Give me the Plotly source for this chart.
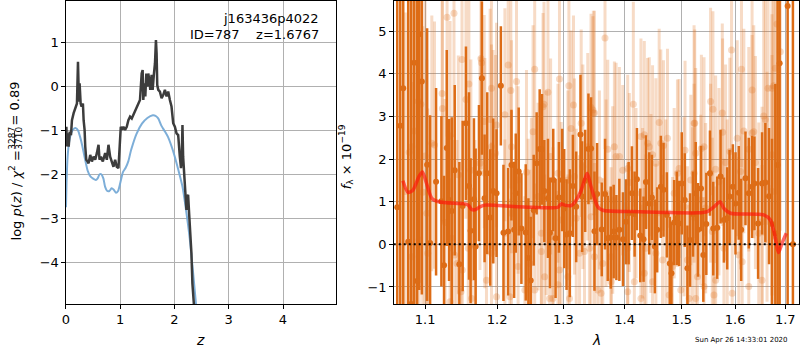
import math
import plotly.graph_objects as go

# ---------------- left panel: log p(z) ----------------
z_black = [0.0, 0.007, 0.019, 0.031, 0.05, 0.068, 0.092, 0.11, 0.141, 0.172,
           0.202, 0.221, 0.239, 0.251, 0.27, 0.288, 0.312, 0.325, 0.343, 0.355,
           0.374, 0.398, 0.416, 0.447, 0.478, 0.508, 0.539, 0.569, 0.6, 0.618,
           0.643, 0.679, 0.722, 0.753, 0.783, 0.814, 0.845, 0.875, 0.906, 0.936,
           0.967, 0.985, 1.01, 1.034, 1.059, 1.089, 1.12, 1.15, 1.181, 1.212,
           1.242, 1.273, 1.303, 1.334, 1.364, 1.395, 1.413, 1.425, 1.444, 1.462,
           1.481, 1.499, 1.517, 1.536, 1.554, 1.578, 1.597, 1.621, 1.64, 1.658,
           1.67, 1.682, 1.701, 1.731, 1.762, 1.792, 1.823, 1.854, 1.884, 1.915,
           1.945, 1.976, 2.007, 2.037, 2.068, 2.098, 2.12, 2.135, 2.147, 2.159,
           2.19, 2.22, 2.235, 2.251, 2.27, 2.312, 2.33, 2.36]
lnp_black = [-1.3, -0.92, -1.37, -1.07, -1.37, -1.03, -1.11, -0.77, -0.61, -0.48,
             -0.39, 0.56, -0.35, 0.07, -0.39, -0.46, -0.39, -0.77, -0.99, -1.37,
             -1.67, -1.71, -1.75, -1.56, -1.71, -1.60, -1.67, -1.52, -1.33, -1.67,
             -1.60, -1.71, -1.52, -1.67, -1.33, -1.60, -1.75, -1.83, -1.67, -1.83,
             -1.86, -1.52, -0.92, -0.99, -0.92, -0.99, -0.92, -0.77, -0.69, -0.73,
             -0.65, -0.54, -0.50, -0.39, -0.31, 0.29, 0.37, -0.31, 0.07, -0.23,
             0.29, -0.01, 0.29, 0.14, -0.08, 0.26, -0.08, 0.29, 0.52, 1.05,
             0.75, 0.03, -0.08, -0.12, -0.27, -0.20, -0.08, -0.23, -0.12, -0.31,
             -0.46, -0.84, -0.92, -1.07, -1.11, -1.6, -1.86, -1.55, -0.88, -1.6,
             -2.2, -2.81, -2.5, -2.47, -2.9, -3.8, -4.48, -5.0]

z_blue = [0.0, 0.01, 0.03, 0.06, 0.1, 0.15, 0.18, 0.22, 0.26, 0.3,
          0.35, 0.4, 0.45, 0.5, 0.55, 0.58, 0.62, 0.65, 0.69, 0.72,
          0.76, 0.8, 0.84, 0.88, 0.92, 0.96, 1.0, 1.05, 1.1, 1.15,
          1.2, 1.3, 1.4, 1.5, 1.6, 1.65, 1.7, 1.76, 1.82, 1.88,
          1.95, 2.0, 2.07, 2.15, 2.2, 2.28, 2.34, 2.4]
lnp_blue = [-2.75, -2.2, -1.6, -1.25, -1.05, -0.96, -0.95, -1.0, -1.15, -1.35,
            -1.65, -1.92, -2.05, -2.1, -2.13, -2.1, -2.0, -2.0, -2.1, -2.28,
            -2.38, -2.38, -2.32, -2.35, -2.42, -2.38, -2.2, -1.95, -1.85, -1.7,
            -1.45, -1.08, -0.85, -0.72, -0.66, -0.67, -0.73, -0.9, -1.02, -1.15,
            -1.38, -1.58, -1.9, -2.3, -2.7, -3.45, -4.2, -5.0]

# ---------------- right panel: spectrum ----------------
lam_dark = [1.0635, 1.0674, 1.0712, 1.0777, 1.0816, 1.0855, 1.0894, 1.0921, 1.0956, 1.1026,
            1.1066, 1.1146, 1.1218, 1.1254, 1.1291, 1.1322, 1.1359, 1.1400, 1.1464, 1.1510,
            1.1556, 1.1598, 1.1621, 1.1668, 1.1692, 1.1739, 1.1781, 1.1819, 1.1857, 1.1900,
            1.1943, 1.1991, 1.2054, 1.2092, 1.2160, 1.2209, 1.2249, 1.2273, 1.2317, 1.2357,
            1.2422, 1.2462, 1.2497, 1.2542, 1.2587, 1.2633, 1.2668, 1.2704, 1.2760, 1.2791,
            1.2842, 1.2878, 1.2930, 1.2982, 1.3013, 1.3050, 1.3102, 1.3150, 1.3203, 1.3272,
            1.3298, 1.3347, 1.3400, 1.3443, 1.3498, 1.3541, 1.3617, 1.3672, 1.3716, 1.3766,
            1.3815, 1.3860, 1.3910, 1.3971, 1.4022, 1.4067, 1.4123, 1.4169, 1.4209, 1.4266,
            1.4323, 1.4364, 1.4421, 1.4468, 1.4520, 1.4561, 1.4626, 1.4673, 1.4732, 1.4785,
            1.4815, 1.4863, 1.4910, 1.4952, 1.5000, 1.5054, 1.5103, 1.5151, 1.5206, 1.5255,
            1.5298, 1.5353, 1.5396, 1.5452, 1.5520, 1.5582, 1.5657, 1.5720, 1.5784, 1.5847,
            1.5892, 1.5956, 1.6007, 1.6071, 1.6117, 1.6201, 1.6266, 1.6331, 1.6377, 1.6450,
            1.6529, 1.6595, 1.6669, 1.6729, 1.6796, 1.6843, 1.6884, 1.7048, 1.7157]
f_dark = [0.87, 2.78, 3.66, 0.06, -1.40, 4.26, -0.86, 4.93, 3.82, 1.87,
          0.03, 1.47, 1.01, -0.49, 2.26, 1.04, 0.78, 1.74, -0.47, 0.90,
          2.84, 1.37, 0.32, 1.06, -0.05, 1.67, 3.90, 1.08, 1.67, 0.63,
          1.25, 1.20, 3.72, 0.27, 0.30, 1.86, 0.34, 1.20, 1.71, 0.37,
          0.28, -0.32, -0.85, 0.80, 1.90, 2.24, 2.23, 1.25, 1.08, 0.27,
          1.51, 0.14, 1.10, 1.51, 0.84, 0.23, 0.26, 1.37, 0.88, 2.58,
          1.12, 1.49, 2.24, 2.25, 0.31, 1.18, 0.35, 1.18, 0.14, 0.16,
          0.30, 0.16, 0.34, 0.12, 0.53, 0.73, 1.20, 0.71, 1.53, 0.21,
          0.12, 1.46, 0.96, 1.10, -0.05, 0.34, 1.35, 1.28, 0.69, -0.45,
          -0.68, 0.51, 0.61, 0.49, 1.43, 1.04, -0.56, 0.10, 0.71, 1.20,
          0.34, 1.31, -0.25, 0.48, 1.67, 0.37, 0.39, 1.59, 0.57, 0.61,
          1.12, 1.35, 0.96, 1.21, 0.34, 1.55, 1.20, 1.35, 1.43, 0.49,
          1.43, 1.45, 1.13, 0.48, 0.26, 1.86, 4.25, 5.59, 0.0]
err_dark = [9, 8, 9, 9, 8, 7, 7, 6, 5, 3.2,
            3.0, 2.2, 2.0, 2.1, 2.3, 1.9, 2.2, 2.0, 2.4, 2.0,
            1.8, 2.2, 1.7, 1.9, 2.3, 1.6, 1.8, 1.5, 1.9, 1.6,
            1.7, 1.5, 1.4, 1.6, 1.5, 1.3, 1.6, 1.4, 1.5, 1.3,
            1.6, 1.4, 1.5, 1.3, 1.2, 1.4, 1.3, 1.2, 1.4, 1.3,
            1.2, 1.4, 1.3, 1.2, 1.4, 1.3, 1.5, 1.2, 1.3, 1.4,
            1.3, 1.2, 1.3, 1.2, 1.4, 1.2, 1.1, 1.3, 1.0, 1.2,
            1.1, 1.0, 1.2, 1.1, 1.0, 1.2, 1.1, 1.0, 1.2, 1.1,
            1.0, 1.1, 1.2, 1.0, 1.1, 1.0, 1.2, 1.1, 1.0, 1.1,
            1.2, 1.0, 1.1, 1.0, 1.2, 1.1, 1.0, 1.1, 1.0, 1.2,
            1.1, 1.0, 1.1, 1.2, 1.0, 1.1, 1.2, 1.1, 1.0, 1.2,
            1.1, 1.0, 1.2, 1.1, 1.2, 1.1, 1.3, 1.2, 1.1, 1.3,
            1.2, 1.4, 1.6, 2.0, 3.5, 6, 8, 9, 9]

lam_light = [1.1295, 1.1390, 1.1501, 1.1767, 1.1776, 1.1597, 1.1556, 1.1228, 1.1232, 1.0908,
             1.0943, 1.0859, 1.0824, 1.0790, 1.0999, 1.1089, 1.1125, 1.1336, 1.0739, 1.0968,
             1.1022, 1.1450, 1.1625, 1.1753, 1.1823, 1.0824, 1.0920, 1.1035, 1.1268, 1.1359,
             1.1396, 1.1432, 1.1505, 1.1588, 1.1682, 1.1846, 1.1918, 1.1336, 1.1487, 1.1635,
             1.1814, 1.1918, 1.1899, 1.1918, 1.1942,
             1.2161, 1.2284, 1.2200, 1.2113, 1.1991, 1.2557, 1.2939, 1.2760, 1.2684, 1.2699,
             1.3087, 1.3160, 1.3442, 1.3480, 1.3122, 1.3283, 1.2532, 1.2801, 1.2915, 1.2433,
             1.2308, 1.2210, 1.1977, 1.2608, 1.2735, 1.3071, 1.3176, 1.3389, 1.3310, 1.2507,
             1.2659, 1.2837, 1.2210, 1.2966, 1.2113, 1.2458, 1.2659, 1.2939, 1.2915, 1.3071,
             1.3257, 1.3336, 1.3416, 1.1991, 1.2186, 1.2409, 1.2557, 1.2786, 1.2837, 1.3097,
             1.2709, 1.2308, 1.2483, 1.3204, 1.3442,
             1.3671, 1.4147, 1.4596, 1.4743, 1.4278, 1.4336, 1.4393, 1.4422, 1.4625, 1.4672,
             1.5060, 1.5225, 1.3472, 1.3498, 1.3716, 1.3827, 1.3855, 1.3911, 1.3967, 1.4051,
             1.4480, 1.4538, 1.4922, 1.4952, 1.5165, 1.4079, 1.3688, 1.4193, 1.3579, 1.3799,
             1.4307, 1.4451, 1.4714, 1.4863, 1.5042, 1.3498, 1.3634, 1.3772, 1.4051, 1.4364,
             1.4538, 1.4655, 1.4833, 1.5103, 1.3552, 1.3606, 1.3772, 1.4051, 1.4164, 1.4336,
             1.4278, 1.4480, 1.4773, 1.4982, 1.5134,
             1.5930, 1.6123, 1.6331, 1.5532, 1.5576, 1.5753, 1.5237, 1.6040, 1.6169, 1.6364,
             1.6331, 1.5759, 1.5409, 1.5360, 1.5255, 1.6562, 1.6595, 1.6649, 1.6762, 1.6830,
             1.6897, 1.6796, 1.6729, 1.5532, 1.5627, 1.5816, 1.5898, 1.6266, 1.6397, 1.6729,
             1.5225, 1.5348, 1.5690, 1.6104, 1.6629, 1.6729, 1.5195, 1.5440, 1.5847, 1.6071,
             1.6136, 1.5784, 1.5564, 1.6463, 1.6529, 1.5286, 1.5409, 1.5627, 1.5943, 1.6266,
             1.6529, 1.5595, 1.5255]
f_light = [5.33, 5.42, 4.34, 4.36, 4.26, 3.76, 3.40, 3.54, 3.19, 3.36,
           3.29, 2.66, 2.29, 2.16, 2.07, 2.37, 2.33, 2.54, 1.24, 1.22,
           0.73, 1.63, 1.74, 1.90, 1.67, -0.29, 0.10, -0.21, 0.51, 0.14,
           -0.25, -0.45, -0.60, -0.09, -0.05, -0.84, -0.21, -1.35, -1.11, -1.27,
           2.88, 3.66, 2.93, 2.29, 2.06,
           4.21, 3.82, 3.61, 3.04, 2.80, 4.11, 3.88, 3.57, 3.23, 3.29,
           3.72, 3.27, 3.21, 3.08, 2.72, 2.84, 2.64, 2.06, 1.67, 1.69,
           1.51, 2.29, 2.14, 1.12, 1.21, 1.51, 1.59, 2.29, 1.82, 0.67,
           0.26, 0.18, 0.73, 0.57, 0.26, -0.02, -0.17, -0.60, -0.95, -0.76,
           -0.21, -0.17, -0.09, -1.23, -1.23, -1.07, -1.07, -1.27, -1.27, -1.27,
           -0.76, -0.52, -0.45, 0.61, 0.65,
           4.84, 3.29, 2.86, 2.49, 2.53, 2.57, 2.37, 2.29, 2.37, 2.32,
           2.21, 2.84, 3.15, 3.08, 2.23, 2.29, 2.06, 2.06, 1.74, 1.78,
           2.10, 1.90, 1.67, 1.78, 1.51, 1.45, 1.20, 1.20, 1.51, 1.04,
           0.73, 0.96, 0.73, 1.20, 0.88, -0.29, -0.45, -0.29, -0.09, -0.09,
           -0.21, -0.37, -0.52, -0.37, -1.07, -1.15, -0.88, -1.11, -0.88, -0.68,
           -1.27, -0.88, -1.19, -1.07, -1.27,
           4.56, 4.11, 3.62, 3.35, 3.17, 3.08, 2.84, 2.49, 2.66, 2.64,
           2.61, 2.63, 2.29, 2.25, 2.14, 3.01, 2.93, 3.66, 3.72, 5.17,
           4.52, 4.13, 3.66, 1.67, 1.76, 1.92, 2.18, 2.23, 1.92, 2.10,
           1.67, 1.04, 1.47, 1.71, 1.35, 1.24, 0.65, 0.85, 0.73, -0.25,
           -0.41, -0.09, 0.30, 0.26, 0.53, -0.76, -0.99, -0.84, -1.15, -0.99,
           -0.84, -1.19, -1.27]
err_light = [2.8, 2.9, 2.6, 2.7, 2.5, 2.6, 2.8, 3.0, 2.7, 4.0,
             4.2, 4.5, 4.0, 4.4, 3.8, 3.0, 2.9, 2.7, 4.2, 3.9,
             3.6, 2.8, 2.6, 2.5, 2.7, 4.1, 3.8, 3.4, 2.9, 2.8,
             2.7, 2.9, 2.6, 2.8, 2.5, 2.7, 2.6, 2.9, 2.8, 2.6,
             2.5, 2.7, 2.6, 2.4, 2.5,
             2.4, 2.6, 2.3, 2.5, 2.4, 2.2, 2.3, 2.5, 2.2, 2.4,
             2.3, 2.1, 2.2, 2.4, 2.3, 2.2, 2.5, 2.3, 2.1, 2.4,
             2.2, 2.5, 2.3, 2.2, 2.4, 2.1, 2.3, 2.2, 2.4, 2.3,
             2.2, 2.1, 2.4, 2.3, 2.2, 2.5, 2.3, 2.1, 2.2, 2.4,
             2.3, 2.1, 2.2, 2.4, 2.3, 2.2, 2.5, 2.3, 2.1, 2.2,
             2.4, 2.3, 2.2, 2.1, 2.3,
             2.6, 2.4, 2.2, 2.1, 2.3, 2.2, 2.0, 2.1, 2.2, 2.0,
             2.1, 2.3, 2.2, 2.4, 2.1, 2.0, 2.2, 2.1, 2.0, 2.2,
             2.1, 2.0, 2.2, 2.1, 2.0, 2.1, 2.2, 2.0, 2.1, 2.2,
             2.0, 2.1, 2.2, 2.0, 2.1, 2.2, 2.0, 2.1, 2.0, 2.2,
             2.1, 2.0, 2.1, 2.2, 2.0, 2.1, 2.2, 2.0, 2.1, 2.0,
             2.2, 2.1, 2.0, 2.1, 2.2,
             2.4, 2.3, 2.5, 2.2, 2.3, 2.1, 2.2, 2.3, 2.4, 2.5,
             2.3, 2.2, 2.1, 2.2, 2.0, 2.8, 2.9, 3.2, 3.6, 4.0,
             4.2, 3.8, 3.4, 2.1, 2.2, 2.3, 2.2, 2.4, 2.5, 3.3,
             2.1, 2.0, 2.2, 2.3, 2.7, 3.2, 2.1, 2.0, 2.2, 2.3,
             2.4, 2.1, 2.2, 2.6, 2.7, 2.0, 2.1, 2.2, 2.3, 2.4,
             2.7, 2.1, 2.0]

lam_model = [1.0708, 1.0773, 1.0837, 1.0920, 1.0964, 1.1013, 1.1089, 1.1179, 1.1450, 1.1542,
             1.1588, 1.1635, 1.1682, 1.1753, 1.1823, 1.2015, 1.2507, 1.2915, 1.2966, 1.3019,
             1.3124, 1.3204, 1.3283, 1.3379, 1.3443, 1.3552, 1.3634, 1.4107, 1.4684, 1.5286,
             1.5471, 1.5595, 1.5709, 1.5784, 1.5911, 1.6562, 1.6696, 1.6776, 1.6864, 1.6931,
             1.7020]
f_model = [1.49, 1.22, 1.27, 1.60, 1.70, 1.46, 1.08, 1.00, 0.96, 0.95,
           0.92, 0.82, 0.81, 0.88, 0.92, 0.91, 0.87, 0.87, 0.95, 0.92,
           0.91, 1.04, 1.27, 1.67, 1.35, 0.88, 0.80, 0.77, 0.75, 0.74,
           0.77, 0.88, 1.00, 0.84, 0.73, 0.69, 0.57, 0.26, -0.19, 0.02,
           0.26]

lam_ticks = [1.1, 1.2, 1.3, 1.4, 1.5, 1.6, 1.7]
lam_ticktext = ["1.1", "1.2", "1.3", "1.4", "1.5", "1.6", "1.7"]

assert len(z_black) == len(lnp_black)
assert len(z_blue) == len(lnp_blue)
assert len(lam_dark) == len(f_dark) == len(err_dark)
assert len(lam_light) == len(f_light) == len(err_light)
assert len(lam_model) == len(f_model)

FONT = "DejaVu Sans"
W, H = 800, 350
ORANGE = "rgb(221,108,22)"
ORANGE_LIGHT = "rgba(224,112,28,0.25)"

fig = go.Figure()

fig.add_trace(go.Scatter(x=z_blue, y=lnp_blue, mode="lines", line=dict(color="rgba(118,170,214,0.95)", width=2, shape="spline", smoothing=0.6),
                         xaxis="x", yaxis="y", hoverinfo="skip"))
fig.add_trace(go.Scatter(x=z_black, y=lnp_black, mode="lines", line=dict(color="rgb(60,60,60)", width=2.5),
                         xaxis="x", yaxis="y", hoverinfo="skip"))

fig.add_trace(go.Scatter(x=lam_light, y=f_light, mode="markers",
                         marker=dict(color=ORANGE_LIGHT, size=7, line=dict(width=0)),
                         error_y=dict(type="data", array=err_light, color=ORANGE_LIGHT, thickness=3, width=0),
                         xaxis="x2", yaxis="y2", hoverinfo="skip"))
fig.add_trace(go.Scatter(x=lam_dark, y=f_dark, mode="markers",
                         marker=dict(color=ORANGE, size=6, line=dict(width=0)),
                         error_y=dict(type="data", array=err_dark, color=ORANGE, thickness=2.5, width=0),
                         xaxis="x2", yaxis="y2", hoverinfo="skip"))
fig.add_trace(go.Scatter(x=lam_model, y=f_model, mode="lines",
                         line=dict(color="rgba(255,20,10,0.65)", width=3.5, shape="spline", smoothing=0.7),
                         xaxis="x2", yaxis="y2", hoverinfo="skip"))

fig.add_shape(type="line", xref="x2 domain", x0=0, x1=1, yref="y2", y0=0, y1=0,
              line=dict(color="black", width=2, dash="2px,3px"))

ydom = [46 / H, 349 / H]
axis_common = dict(showline=True, linecolor="black", linewidth=1, mirror=True,
                   ticks="outside", ticklen=3.5, tickwidth=1, tickcolor="black",
                   showgrid=True, gridcolor="#b0b0b0", gridwidth=1, zeroline=False,
                   tickfont=dict(family=FONT, size=13, color="black"))

fig.update_layout(
    width=W, height=H, margin=dict(l=0, r=0, t=0, b=0),
    paper_bgcolor="white", plot_bgcolor="white", showlegend=False,
    font=dict(family=FONT, size=13, color="black"),
    xaxis=dict(domain=[62.3 / W, 333.3 / W], range=[0, 4.97], tickvals=[0, 1, 2, 3, 4], anchor="y", **axis_common),
    yaxis=dict(domain=ydom, range=[-4.95, 1.94], tickvals=[-4, -3, -2, -1, 0, 1], anchor="x", **axis_common),
    xaxis2=dict(domain=[391.7 / W, 799.3 / W], type="log", range=[math.log10(1.059), math.log10(1.729)],
                tickvals=lam_ticks, ticktext=lam_ticktext, anchor="y2", **axis_common),
    yaxis2=dict(domain=ydom, range=[-1.40, 5.71], tickvals=[-1, 0, 1, 2, 3, 4, 5], anchor="x2", **axis_common),
)

def px(x):
    return x / W

def py(y):
    return 1 - y / H

ann = []
ann.append(dict(text="j163436p4022", x=px(319), y=py(19), xanchor="right", yanchor="middle", font=dict(size=13)))
ann.append(dict(text="ID=787\u00a0\u00a0\u00a0\u00a0z=1.6767", x=px(319), y=py(35), xanchor="right", yanchor="middle", font=dict(size=13)))
ann.append(dict(text="<i>z</i>", x=px(197), y=py(340), xanchor="center", yanchor="middle", font=dict(size=14)))
ann.append(dict(text="<i>λ</i>", x=px(595), y=py(340), xanchor="center", yanchor="middle", font=dict(size=14)))
ann.append(dict(text="Sun Apr 26 14:33:01 2020", x=px(741), y=py(340), xanchor="center", yanchor="middle", font=dict(size=7)))
# left y label pieces (rotated)
ann.append(dict(text="log <i>p</i>(<i>z</i>) / <i>χ</i><sup>2</sup> =", x=px(11.5), y=py(195), textangle=-90,
                xanchor="center", yanchor="middle", font=dict(size=13)))
ann.append(dict(text="3287", x=px(7.3), y=py(138.5), textangle=-90, xanchor="center", yanchor="middle", font=dict(size=9)))
ann.append(dict(text="3710", x=px(14.2), y=py(138.5), textangle=-90, xanchor="center", yanchor="middle", font=dict(size=9)))
ann.append(dict(text="= 0.89", x=px(11.5), y=py(103), textangle=-90, xanchor="center", yanchor="middle", font=dict(size=13)))
# right y label
ann.append(dict(text="<i>f</i><sub>λ</sub> × 10<sup>−19</sup>", x=px(344), y=py(157), textangle=-90,
                xanchor="center", yanchor="middle", font=dict(size=13)))
for a in ann:
    a.update(xref="paper", yref="paper", showarrow=False)
fig.update_layout(annotations=ann)

# fraction bar
fig.add_shape(type="line", xref="paper", yref="paper", x0=px(10.6), x1=px(10.6), y0=py(131), y1=py(146),
              line=dict(color="black", width=0.8))

fig.write_html("out.html", config={"displayModeBar": False},
               post_script="document.body.style.margin='0';document.body.style.padding='0';document.body.style.overflow='hidden';")
